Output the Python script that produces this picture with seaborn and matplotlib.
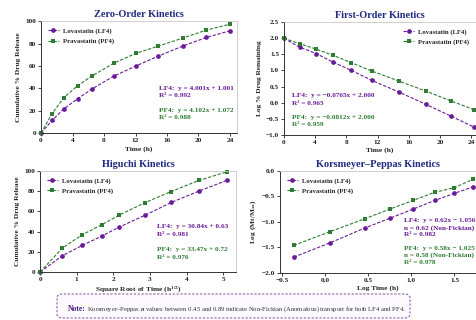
#!/usr/bin/env python3
# plot.py — four release-kinetics panels (LF4 vs PF4) with a note box

import matplotlib
matplotlib.use("Agg")
import seaborn as sns
import matplotlib.pyplot as plt
from matplotlib.patches import FancyBboxPatch

# --- 1. Data ---
zero_t = [0, 1.4, 2.9, 4.65, 6.45, 9.25, 12, 14.9, 18, 21, 24]
zero_lf4 = [0, 11.3, 21.7, 30.7, 39.3, 50.9, 59.8, 68.8, 77.7, 85.4, 91.4]
zero_pf4 = [0, 17.3, 31.8, 42.3, 50.9, 62.5, 71.1, 77.7, 84.8, 92.0, 97.3]

first_t = [0, 2.05, 4.18, 6.3, 8.65, 11.3, 14.75, 18.2, 21.35, 24.3]
first_lf4 = [2.0, 1.72, 1.52, 1.26, 1.0, 0.69, 0.33, -0.05, -0.41, -0.75]
first_pf4 = [2.0, 1.83, 1.66, 1.47, 1.24, 0.98, 0.67, 0.36, 0.06, -0.21]

higuchi_x = [0, 0.61, 1.15, 1.68, 2.16, 2.85, 3.58, 4.33, 5.09]
higuchi_lf4 = [0, 16.1, 26.3, 35.5, 44.4, 55.9, 68.8, 79.9, 90.5]
higuchi_pf4 = [0, 23.7, 36.8, 46.7, 56.3, 68.4, 79.6, 90.5, 99.0]

kp_x = [-0.36, 0.06, 0.46, 0.75, 1.02, 1.27, 1.5, 1.72]
kp_lf4 = [-1.69, -1.41, -1.12, -0.93, -0.75, -0.58, -0.44, -0.31]
kp_pf4 = [-1.46, -1.19, -0.94, -0.75, -0.58, -0.42, -0.33, -0.16]

series_names = ["Lovastatin (LF4)", "Pravastatin (PF4)"]

# --- 2. Style ---
sns.set_theme(style="ticks")
plt.rcParams["font.family"] = ["Liberation Serif", "DejaVu Serif"]
plt.rcParams["font.weight"] = "bold"
plt.rcParams["mathtext.fontset"] = "stix"

PURPLE = "#6a1b9a"
GREEN = "#2e7d32"
NAVY = "#1f2a80"
SPINE = "#333333"

fig = plt.figure(figsize=(4.77, 3.2), dpi=100)
fig.patch.set_facecolor("white")

# axes rectangles in figure fractions (left, bottom, width, height)
ax_zero = fig.add_axes([0.086, 0.584, 0.411, 0.350])
ax_first = fig.add_axes([0.595, 0.578, 0.403, 0.353])
ax_hig = fig.add_axes([0.084, 0.150, 0.411, 0.316])
ax_kp = fig.add_axes([0.587, 0.147, 0.411, 0.319])


def draw(ax, x, y1, y2, title, xlabel, ylabel, xlim, ylim, xticks, yticks,
         legend_loc, fmt="{:g}"):
    sns.lineplot(x=x, y=y1, ax=ax, color=PURPLE, marker="o", markersize=3.4,
                 markeredgewidth=0, linestyle=(0, (3, 1.5)), linewidth=0.8,
                 label=series_names[0], clip_on=False)
    sns.lineplot(x=x, y=y2, ax=ax, color=GREEN, marker="s", markersize=3.2,
                 markeredgewidth=0, linestyle=(0, (3, 1.5)), linewidth=0.8,
                 label=series_names[1], clip_on=False)
    ax.set_xlim(*xlim)
    ax.set_ylim(*ylim)
    ax.set_xticks(xticks)
    ax.set_yticks(yticks)
    ax.set_xticklabels([fmt.format(v) for v in xticks])
    ax.set_yticklabels([fmt.format(v) for v in yticks])
    ax.set_title(title, fontsize=7.4, fontweight="bold", color=NAVY, pad=3)
    ax.set_xlabel(xlabel, fontsize=5.4, fontweight="bold", labelpad=2)
    ax.set_ylabel(ylabel, fontsize=5.3, fontweight="bold", labelpad=3)
    ax.tick_params(labelsize=5.2, length=2, width=0.6, pad=1.5, colors="#222222")
    for s in ["left", "bottom"]:
        ax.spines[s].set_color(SPINE)
        ax.spines[s].set_linewidth(0.7)
    for s in ["top", "right"]:
        ax.spines[s].set_visible(True)
        ax.spines[s].set_color("#c8c8c8")
        ax.spines[s].set_linewidth(0.6)
    leg = ax.legend(loc=legend_loc, frameon=False, fontsize=4.9, handlelength=1.6,
                    handletextpad=0.6, labelspacing=0.6, borderaxespad=0.6)
    for t in leg.get_texts():
        t.set_fontweight("bold")


draw(ax_zero, zero_t, zero_lf4, zero_pf4, "Zero-Order Kinetics", "Time (h)",
     "Cumulative % Drug Release", (0, 24.9), (0, 100),
     [0, 4, 8, 12, 16, 20, 24], [0, 20, 40, 60, 80, 100], "upper left")
draw(ax_first, first_t, first_lf4, first_pf4, "First-Order Kinetics", "Time (h)",
     "Log % Drug Remaining", (0, 24.6), (-1.0, 2.5),
     [0, 4, 8, 12, 16, 20, 24], [-1.0, -0.5, 0.0, 0.5, 1.0, 1.5, 2.0, 2.5],
     "upper right")
ax_first.set_yticklabels(["\u22121.0", "\u22120.5", "0.0", "0.5", "1.0", "1.5", "2.0", "2.5"])
draw(ax_hig, higuchi_x, higuchi_lf4, higuchi_pf4, "Higuchi Kinetics",
     r"Square Root of Time (h$^{\mathbf{1/2}}$)", "Cumulative % Drug Release",
     (0, 5.35), (0, 100), [0, 1, 2, 3, 4, 5], [0, 20, 40, 60, 80, 100], "upper left")
draw(ax_kp, kp_x, kp_lf4, kp_pf4, "Korsmeyer\u2013Peppas Kinetics", "Log Time (h)",
     r"Log (Mt/M$_{\mathbf{\infty}}$)", (-0.52, 1.75), (-2.0, 0.0),
     [-0.5, 0.0, 0.5, 1.0, 1.5], [-2.0, -1.5, -1.0, -0.5, 0.0], "upper left")
ax_kp.set_xticklabels(["\u22120.5", "0.0", "0.5", "1.0", "1.5"])
ax_kp.set_yticklabels(["\u22122.0", "\u22121.5", "\u22121.0", "\u22120.5", "0.0"])

# --- 3. Fit annotations ---
ann = dict(fontsize=5.2, fontweight="bold", va="top", ha="left", linespacing=1.6)
ax_zero.text(0.60, 0.425, "LF4:  y = 4.001x + 1.001\nR\u00b2 = 0.992",
             transform=ax_zero.transAxes, color=PURPLE, **ann)
ax_zero.text(0.60, 0.228, "PF4:  y = 4.102x + 1.072\nR\u00b2 = 0.988",
             transform=ax_zero.transAxes, color=GREEN, **ann)
ax_first.text(0.04, 0.368, "LF4:  y = \u22120.0765x + 2.000\nR\u00b2 = 0.965",
              transform=ax_first.transAxes, color=PURPLE, **ann)
ax_first.text(0.04, 0.18, "PF4:  y = \u22120.0812x + 2.000\nR\u00b2 = 0.959",
              transform=ax_first.transAxes, color=GREEN, **ann)
ax_hig.text(0.595, 0.47, "LF4:  y = 30.84x + 0.63\nR\u00b2 = 0.981",
            transform=ax_hig.transAxes, color=PURPLE, **ann)
ax_hig.text(0.595, 0.245, "PF4:  y = 33.47x + 0.72\nR\u00b2 = 0.976",
            transform=ax_hig.transAxes, color=GREEN, **ann)
kp_ann = dict(ann, linespacing=1.35)
ax_kp.text(0.63, 0.535, "LF4:  y = 0.62x \u2212 1.056\nn = 0.62 (Non-Fickian)\nR\u00b2 = 0.982",
           transform=ax_kp.transAxes, color=PURPLE, **kp_ann)
ax_kp.text(0.63, 0.265, "PF4:  y = 0.58x \u2212 1.025\nn = 0.58 (Non-Fickian)\nR\u00b2 = 0.978",
           transform=ax_kp.transAxes, color=GREEN, **kp_ann)

# --- 4. Note box ---
box = FancyBboxPatch((57 / 477, 2 / 320), 353 / 477, 24 / 320,
                     boxstyle="round,pad=0,rounding_size=0.012",
                     transform=fig.transFigure, facecolor="#fcfafe",
                     edgecolor="#8e5cb5", linewidth=0.8, linestyle=(0, (2, 1.5)))
fig.patches.append(box)
fig.text(68 / 477, 1 - 309 / 320, "Note:", fontsize=5.5, fontweight="bold",
         color="#4a1a7a", va="center", ha="left")
fig.text(87 / 477, 1 - 309 / 320,
         "Korsmeyer\u2013Peppas $n$ values between 0.45 and 0.89 indicate "
         "Non-Fickian (Anomalous) transport for both LF4 and PF4.",
         fontsize=4.8, fontweight="normal", color="#333333", va="center", ha="left")

fig.savefig("out.png", dpi=100)
plt.close(fig)
